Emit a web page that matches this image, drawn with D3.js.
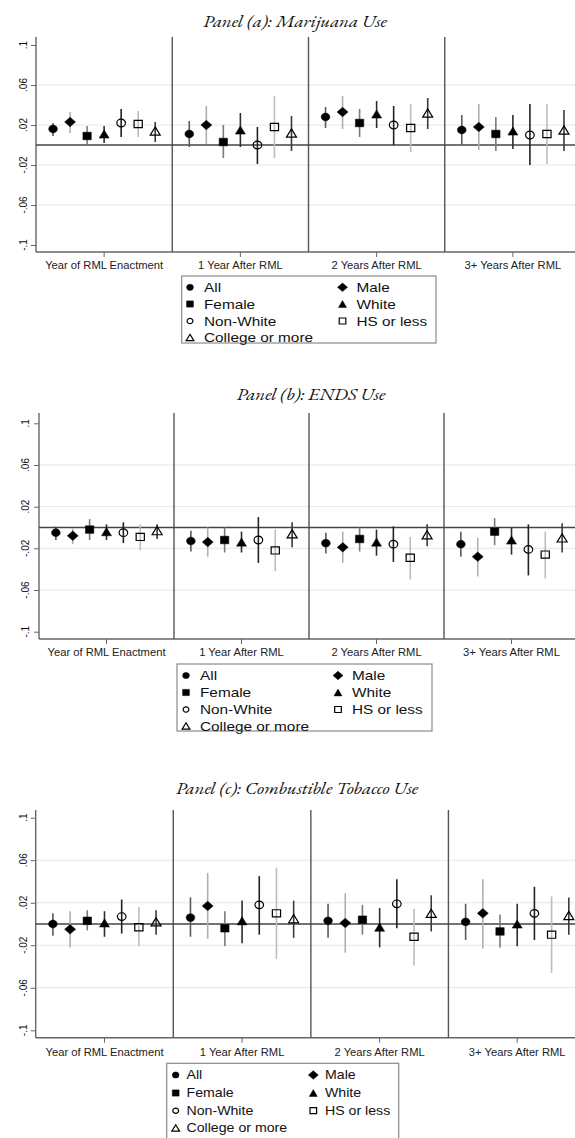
<!DOCTYPE html>
<html><head><meta charset="utf-8">
<script src="https://cdn.jsdelivr.net/npm/d3@7"></script>
<style>html,body{margin:0;padding:0;background:#fff;}svg{display:block;}</style>
</head><body>
<svg id="chart" width="575" height="1138"></svg>
<script>
// ---------------- DATA ----------------
const groups = ["Year of RML Enactment","1 Year After RML","2 Years After RML","3+ Years After RML"];
const subgroups = ["All","Male","Female","White","Non-White","HS or less","College or more"];
const yTicks = [-0.1,-0.06,-0.02,0.02,0.06,0.1];
const yTickLabels = ["-.1","-.06","-.02",".02",".06",".1"];
const panelTitles = ["Panel (a): Marijuana Use","Panel (b): ENDS Use","Panel (c): Combustible Tobacco Use"];

// Panel (a): Marijuana use — rows = groups, cols = subgroups
const marijuanaEst = [
  [0.016, 0.023, 0.009, 0.011, 0.022, 0.021, 0.014],
  [0.011, 0.020, 0.003, 0.015, 0.000, 0.018, 0.012],
  [0.028, 0.033, 0.022, 0.031, 0.020, 0.017, 0.032],
  [0.015, 0.018, 0.011, 0.014, 0.010, 0.011, 0.015]];
const marijuanaLo = [
  [0.009, 0.012, -0.001, 0.002, 0.008, 0.008, 0.003],
  [-0.002, 0.001, -0.013, -0.002, -0.019, -0.013, -0.006],
  [0.017, 0.016, 0.008, 0.017, 0.000, -0.007, 0.016],
  [0.000, -0.005, -0.006, -0.004, -0.020, -0.019, -0.006]];
const marijuanaHi = [
  [0.022, 0.033, 0.019, 0.019, 0.036, 0.034, 0.023],
  [0.024, 0.039, 0.020, 0.032, 0.018, 0.049, 0.029],
  [0.038, 0.049, 0.036, 0.044, 0.039, 0.041, 0.047],
  [0.030, 0.041, 0.028, 0.030, 0.041, 0.041, 0.035]];

// Panel (b): ENDS use
const endsEst = [
  [-0.005, -0.008, -0.002, -0.004, -0.005, -0.009, -0.003],
  [-0.013, -0.014, -0.012, -0.014, -0.012, -0.022, -0.006],
  [-0.015, -0.019, -0.011, -0.014, -0.016, -0.029, -0.007],
  [-0.016, -0.028, -0.004, -0.012, -0.021, -0.026, -0.010]];
const endsLo = [
  [-0.012, -0.016, -0.012, -0.012, -0.015, -0.022, -0.011],
  [-0.023, -0.028, -0.024, -0.024, -0.034, -0.042, -0.019],
  [-0.025, -0.034, -0.023, -0.027, -0.033, -0.050, -0.018],
  [-0.028, -0.047, -0.017, -0.026, -0.046, -0.049, -0.024]];
const endsHi = [
  [0.001, -0.001, 0.008, 0.003, 0.005, 0.003, 0.003],
  [-0.003, 0.000, 0.000, -0.004, 0.010, -0.002, 0.005],
  [-0.005, -0.004, 0.000, -0.002, 0.001, -0.009, 0.003],
  [-0.004, -0.010, 0.009, 0.000, 0.003, -0.004, 0.004]];

// Panel (c): Combustible tobacco use
const tobaccoEst = [
  [0.000, -0.005, 0.003, 0.001, 0.007, -0.003, 0.002],
  [0.006, 0.017, -0.004, 0.003, 0.018, 0.010, 0.005],
  [0.003, 0.001, 0.004, -0.003, 0.019, -0.012, 0.010],
  [0.002, 0.010, -0.007, 0.000, 0.010, -0.010, 0.008]];
const tobaccoLo = [
  [-0.011, -0.022, -0.006, -0.012, -0.009, -0.021, -0.010],
  [-0.012, -0.014, -0.021, -0.018, -0.010, -0.033, -0.013],
  [-0.013, -0.027, -0.010, -0.022, -0.004, -0.039, -0.007],
  [-0.015, -0.023, -0.022, -0.021, -0.015, -0.046, -0.010]];
const tobaccoHi = [
  [0.010, 0.012, 0.013, 0.012, 0.023, 0.016, 0.013],
  [0.025, 0.048, 0.012, 0.022, 0.045, 0.053, 0.022],
  [0.019, 0.029, 0.018, 0.015, 0.042, 0.014, 0.027],
  [0.019, 0.042, 0.009, 0.019, 0.035, 0.026, 0.025]];

// ---------------- STYLE / LAYOUT ----------------
const markerTypes = ["circle","diamond","square","triangle","ocircle","osquare","otriangle"];
const ciColors = ["#5a5a5a","#b0b0b0","#7a7a7a","#2e2e2e","#222","#bdbdbd","#3a3a3a"];
const plotSize = {circle:[8.7,7.8],diamond:[11,9.5],square:[8.4,7.6],triangle:[10,8.2],ocircle:[8.6,7.6],osquare:[8.2,7.2],otriangle:[10,8.2]};
const legSize  = {circle:[6.8,6.2],diamond:[10,8.6],square:[6.8,6.2],triangle:[8,6.8],ocircle:[5.8,5.2],osquare:[6.6,6],otriangle:[7.8,6.4]};

const layouts = [
  {est:marijuanaEst, lo:marijuanaLo, hi:marijuanaHi,
   top:37, bottom:252, yHi:45, yLo:245, left:36, right:581,
   titleX:295, titleY:26.5, yLabX:23, xLabY:269,
   leg:{x0:181.7,y0:276,x1:436,y1:343, rows:[287.3,304,321,337.5], m1:190, t1:204, m2:342.5, t2:356.5, fs:13}},
  {est:endsEst, lo:endsLo, hi:endsHi,
   top:413, bottom:639, yHi:423.3, yLo:631.7, left:39, right:579,
   titleX:311, titleY:400, yLabX:25, xLabY:656,
   leg:{x0:177,y0:664,x1:432,y1:731, rows:[675.5,692.5,709.5,726], m1:186, t1:200, m2:338, t2:352, fs:13}},
  {est:tobaccoEst, lo:tobaccoLo, hi:tobaccoHi,
   top:810, bottom:1037.7, yHi:817.7, yLo:1030.3, left:35.7, right:586,
   titleX:297, titleY:794, yLabX:23, xLabY:1055.5,
   leg:{x0:166.7,y0:1063.3,x1:398.7,y1:1140, rows:[1075,1093,1110.7,1128], m1:175.7, t1:186.5, m2:313.3, t2:325, fs:12}}
];

const svg = d3.select("#chart");
const SX = 1.17; // horizontal stretch of text in the reference

function markerPath(type, w, h){
  const a = w/2, b = h/2;
  if (type === "circle" || type === "ocircle"){
    return `M${-a},0A${a},${b} 0 1,0 ${a},0A${a},${b} 0 1,0 ${-a},0Z`;
  }
  if (type === "square" || type === "osquare") return `M${-a},${-b}H${a}V${b}H${-a}Z`;
  if (type === "diamond") return `M0,${-b}L${a},0L0,${b}L${-a},0Z`;
  // triangle
  return `M0,${-b}L${a},${b}L${-a},${b}Z`;
}
function drawMarker(g, type, x, y, size){
  const [w,h] = size[type];
  const hollow = type.startsWith("o");
  g.append("path").attr("d", markerPath(type,w,h))
    .attr("transform", `translate(${x},${y})`)
    .attr("fill", hollow ? "none" : "#000")
    .attr("stroke", "#000")
    .attr("stroke-width", hollow ? 1.2 : 0.5);
}
function stretchedText(g, str, x, y, opts){
  const t = g.append("g").attr("transform", `translate(${x},${y}) scale(${opts.sx||SX},1)` + (opts.rot ? ` rotate(${opts.rot})` : ""))
    .append("text").text(str)
    .attr("font-family", opts.family || "'Liberation Sans', Arial, sans-serif")
    .attr("font-size", opts.fs)
    .attr("fill", opts.fill || "#000")
    .attr("text-anchor", opts.anchor || "start");
  if (opts.italic) t.attr("font-style","italic");
  if (opts.baseline) t.attr("dominant-baseline", opts.baseline);
  return t;
}

layouts.forEach((L, p) => {
  const g = svg.append("g");
  const y = d3.scaleLinear().domain([-0.1, 0.1]).range([L.yLo, L.yHi]);
  const x0 = d3.scaleBand().domain(groups).range([L.left, L.right]).paddingInner(0).paddingOuter(0);
  const x1 = d3.scalePoint().domain(subgroups).range([0, x0.bandwidth()]).padding(1);

  // title
  stretchedText(g, panelTitles[p], L.titleX, L.titleY, {fs:17.5, family:"'EB Garamond','Liberation Serif','Times New Roman',serif", italic:true, anchor:"middle", sx:1.08, fill:"#111"});

  // gridlines
  g.selectAll(".grid").data(yTicks.filter(v => Math.abs(v) < 0.09)).enter().append("line")
    .attr("x1", L.left).attr("x2", L.right).attr("y1", d => y(d)).attr("y2", d => y(d))
    .attr("stroke", "#e6e6e6").attr("stroke-width", 1);

  // y axis via d3.axisLeft
  const yAxis = d3.axisLeft(y).tickValues(yTicks).tickSize(5).tickFormat("");
  const ya = g.append("g").attr("transform", `translate(${L.left},0)`).call(yAxis);
  ya.select(".domain").remove();
  ya.selectAll(".tick line").attr("stroke", "#666").attr("stroke-width", 1);
  g.append("line").attr("x1", L.left).attr("x2", L.left).attr("y1", L.top).attr("y2", L.bottom)
    .attr("stroke", "#666").attr("stroke-width", 1.4);
  yTicks.forEach((v,i) => {
    stretchedText(g, yTickLabels[i], L.yLabX + 3.5, y(v), {fs:10, anchor:"middle", rot:-90, sx:1.15, fill:"#111"});
  });

  // x axis
  const xAxis = d3.axisBottom(x0).tickSize(5).tickFormat("");
  const xa = g.append("g").attr("transform", `translate(0,${L.bottom})`).call(xAxis);
  xa.select(".domain").remove();
  xa.selectAll(".tick line").attr("stroke", "#666").attr("stroke-width", 1);
  g.append("line").attr("x1", L.left).attr("x2", L.right).attr("y1", L.bottom).attr("y2", L.bottom)
    .attr("stroke", "#666").attr("stroke-width", 1.4);
  groups.forEach(gr => {
    stretchedText(g, gr, x0(gr) + x0.bandwidth()/2, L.xLabY, {fs:10, anchor:"middle", sx:1.12, fill:"#222"});
  });

  // separators
  groups.slice(1).forEach(gr => {
    g.append("line").attr("x1", x0(gr)).attr("x2", x0(gr)).attr("y1", L.top).attr("y2", L.bottom)
      .attr("stroke", "#555").attr("stroke-width", 1.4);
  });

  // zero line
  g.append("line").attr("x1", L.left).attr("x2", L.right).attr("y1", y(0)).attr("y2", y(0))
    .attr("stroke", "#444").attr("stroke-width", 1.4);

  // CIs and markers
  groups.forEach((gr, gi) => {
    subgroups.forEach((sg, si) => {
      const cx = x0(gr) + x1(sg);
      g.append("line").attr("x1", cx).attr("x2", cx)
        .attr("y1", y(L.lo[gi][si])).attr("y2", y(L.hi[gi][si]))
        .attr("stroke", ciColors[si]).attr("stroke-width", 1.6);
    });
    subgroups.forEach((sg, si) => {
      const cx = x0(gr) + x1(sg);
      drawMarker(g, markerTypes[si], cx, y(L.est[gi][si]), plotSize);
    });
  });

  // legend
  const lg = L.leg;
  g.append("rect").attr("x", lg.x0).attr("y", lg.y0).attr("width", lg.x1 - lg.x0).attr("height", lg.y1 - lg.y0)
    .attr("fill", "#fff").attr("stroke", "#8a8a8a").attr("stroke-width", 1.2);
  subgroups.forEach((sg, si) => {
    const row = Math.floor(si / 2), col = si % 2;
    const mx = col === 0 ? lg.m1 : lg.m2, tx = col === 0 ? lg.t1 : lg.t2;
    const yy = lg.rows[row];
    drawMarker(g, markerTypes[si], mx, yy, legSize);
    stretchedText(g, sg, tx, yy, {fs:lg.fs, baseline:"central", sx:1.18, fill:"#111"});
  });
});
</script>
</body></html>
